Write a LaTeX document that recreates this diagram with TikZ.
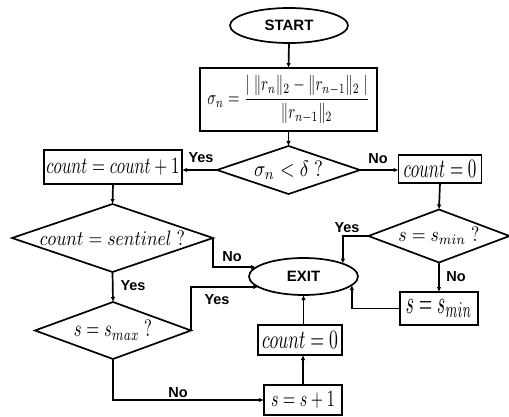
\documentclass[tikz,border=0pt]{standalone}
\usepackage{fontspec}
\usepackage{graphicx}
\newfontfamily\labfont{Liberation Sans}
\usetikzlibrary{shapes.geometric,arrows.meta}
\newcommand{\fx}[3]{\resizebox{#1pt}{#2pt}{$#3$}}
\tikzset{
  base/.style={draw=black,line width=1.7pt,inner sep=0pt,outer sep=0pt},
  term/.style={base,ellipse,font=\labfont\bfseries\fontsize{15}{18}\selectfont},
  proc/.style={base,rectangle},
  dec/.style={base,diamond},
  arr/.style={line width=1.7pt,-{Latex[length=5pt,width=4.5pt]}},
  lab/.style={font=\labfont\bfseries\fontsize{14.5}{17}\selectfont,inner sep=0pt}
}
\begin{document}
\begin{tikzpicture}[x=1pt,y=-1pt]
\useasboundingbox (0,0) rectangle (509,417);
\node[term,minimum width=118pt,minimum height=35pt] (start) at (289,25.5) {START};
\node[proc,minimum width=177pt,minimum height=63pt] (sig) at (288.5,99.5)
  {\resizebox*{162pt}{48pt}{$\displaystyle \sigma_n=\frac{|\;\|r_n\|_2-\|r_{n-1}\|_2\;|}{\|r_{n-1}\|_2}$}};
\node[dec,shape aspect=2.98,minimum width=143pt,minimum height=48pt] (d1) at (288.5,170) {\fx{69}{15.5}{\sigma_n<\delta\;?}};
\node[proc,minimum width=138pt,minimum height=34pt] (cp1) at (113,167) {\fx{133}{15}{count=count+1}};
\node[proc,minimum width=83pt,minimum height=28pt] (c0r) at (440,169) {\fx{73}{17}{count=0}};
\node[dec,shape aspect=2.96,minimum width=201pt,minimum height=68pt] (d2) at (112.5,238) {\fx{145}{14.5}{count=sentinel\;?}};
\node[dec,shape aspect=2.74,minimum width=156pt,minimum height=57pt] (d3) at (113,330.5) {\fx{78}{16.5}{s=s_{max}\;?}};
\node[dec,shape aspect=2.66,minimum width=141pt,minimum height=53pt] (d4) at (439,236) {\fx{81}{14.5}{s=s_{min}\;?}};
\node[term,minimum width=109pt,minimum height=37pt] (exit) at (303.5,276.5) {EXIT};
\node[proc,minimum width=78pt,minimum height=33pt] (smb) at (439,308.5) {\fx{66}{14}{s=s_{min}}};
\node[proc,minimum width=84pt,minimum height=30pt] (c0b) at (300,340) {\fx{76}{17}{count=0}};
\node[proc,minimum width=78pt,minimum height=30pt] (sp1) at (303,400) {\fx{64}{15}{s=s+1}};
% connectors
\draw[arr] (start.south) -- (sig.north);
\draw[arr] (sig.south) -- (d1.north);
\draw[arr] (d1.west) -- (d1.west -| cp1.east);
\draw[arr] (d1.east) -- (d1.east -| c0r.west);
\draw[arr] (cp1.south) -- (d2.north);
\draw[arr] (c0r.south) -- (d4.north);
\draw[arr] (d2.east) |- (exit.169);
\draw[arr] (d2.south) -- (d3.north);
\draw[arr] (d3.east) |- (exit.193);
\draw[arr] (d3.south) |- (sp1.west);
\draw[arr] (sp1.north) -- (sp1.north |- c0b.south);
\draw[arr] (exit.south |- c0b.north) -- (exit.south);
\draw[arr] (d4.west) -| (exit.18);
\draw[arr] (d4.south) -- (smb.north);
\draw[arr] (smb.west) -| (exit.-10);
% labels
\node[lab] (lyes1) at (201,158) {Yes};
\node[lab] (lno1) at (378,159) {No};
\node[lab] (lno2) at (232,257) {No};
\node[lab] (lyes2) at (133,286) {Yes};
\node[lab] (lyes3) at (217,300) {Yes};
\node[lab] (lno3) at (178,393) {No};
\node[lab] (lyes4) at (347,228) {Yes};
\node[lab] (lno4) at (456,277) {No};
\end{tikzpicture}
\end{document}
